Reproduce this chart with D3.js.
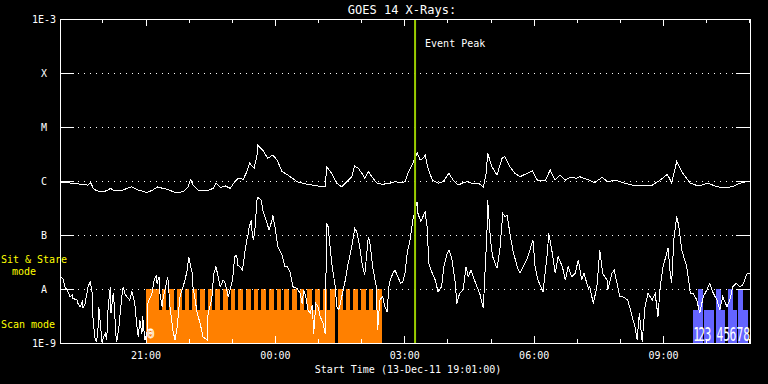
<!DOCTYPE html>
<html><head><meta charset="utf-8">
<script src="https://cdn.jsdelivr.net/npm/d3@7"></script>
<style>
html,body{margin:0;padding:0;background:#000;}
svg{display:block;}
text{font-family:"DejaVu Sans Mono",monospace;}
</style>
</head><body>
<svg id="chart" width="768" height="384"></svg>
<script>
// ---------------- DATA ----------------
const startTime = Date.UTC(2011, 11, 13, 19, 1, 0);   // 13-Dec-11 19:01:00
const durationMinutes = 960;
const eventPeakMinute = 494;                           // ~03:15
const titleText = "GOES 14 X-Rays:";
const xLabelText = "Start Time (13-Dec-11 19:01:00)";
const yTickValues = [1e-9, 1e-8, 1e-7, 1e-6, 1e-5, 1e-4, 1e-3];
const yTickLabels = ["1E-9", "A", "B", "C", "M", "X", "1E-3"];
const gridLevels = [1e-8, 1e-7, 1e-6, 1e-5, 1e-4];

// long channel (1-8 A): [minutes after start, flux W/m^2]
const longChannel = [
 [0,9.5e-7],[18,9.1e-7],[39,8.4e-7],[43,9.3e-7],[46,7.4e-7],[51,6.6e-7],[60,6.3e-7],[67,6.8e-7],[70,7.3e-7],[74,6.8e-7],
 [86,6.6e-7],[93,7.3e-7],[100,7.8e-7],[109,6.8e-7],[121,6.1e-7],[129,6.8e-7],[136,7.8e-7],[143,7.3e-7],[150,7.0e-7],[160,6.1e-7],
 [171,6.3e-7],[178,7.8e-7],[182,1.08e-6],[185,8.4e-7],[192,6.8e-7],[205,6.6e-7],[213,7.3e-7],[217,9.1e-7],[223,7.6e-7],[230,8.1e-7],
 [237,7.3e-7],[243,9.7e-7],[248,1.12e-6],[255,1.08e-6],[260,1.49e-6],[264,2.13e-6],[267,1.9e-6],[270,1.72e-6],[274,2.82e-6],[275,4.64e-6],
 [282,3.75e-6],[289,2.63e-6],[296,3.03e-6],[302,2.45e-6],[309,1.49e-6],[317,1.29e-6],[330,9.7e-7],[344,8.7e-7],[358,8.1e-7],[369,7.8e-7],
 [371,1.84e-6],[378,1.39e-6],[385,9.1e-7],[392,7.8e-7],[401,1.04e-6],[406,1.2e-6],[410,1.9e-6],[415,1.72e-6],[420,1.39e-6],[424,1.12e-6],
 [429,1.49e-6],[434,1.2e-6],[441,9.1e-7],[449,8.7e-7],[459,9.1e-7],[466,9.7e-7],[476,9.3e-7],[480,9.7e-7],[484,1.39e-6],[491,2.13e-6],
 [497,3.34e-6],[501,2.45e-6],[505,2.63e-6],[508,3.03e-6],[512,1.72e-6],[518,1.04e-6],[526,9.1e-7],[533,9.7e-7],[541,1.39e-6],[547,1.04e-6],
 [554,8.4e-7],[561,9.3e-7],[566,9.7e-7],[573,9.1e-7],[582,9.1e-7],[589,7.8e-7],[593,1.39e-6],[595,3.26e-6],[601,1.84e-6],[608,1.29e-6],
 [615,2.63e-6],[619,2.82e-6],[626,1.84e-6],[633,1.39e-6],[640,1.2e-6],[650,1.39e-6],[657,1.55e-6],[664,1.04e-6],[675,1.01e-6],[682,1.6e-6],
 [689,1.04e-6],[696,1.29e-6],[703,1.04e-6],[710,1.17e-6],[719,1.12e-6],[723,1.2e-6],[733,1.08e-6],[744,9.3e-7],[754,1.17e-6],[762,9.7e-7],
 [772,1.04e-6],[786,9.1e-7],[796,8.4e-7],[824,8.4e-7],[835,1.04e-6],[845,1.33e-6],[851,9.3e-7],[858,2.28e-6],[865,1.49e-6],[877,9.1e-7],
 [888,8.1e-7],[902,9.1e-7],[911,8.1e-7],[921,7.5e-7],[935,7.8e-7],[946,9.1e-7],[960,1.0e-6]
];

// short channel (0.5-4 A): [minutes after start, flux W/m^2]
const shortChannel = [
 [0,1.68e-8],[4,1.58e-8],[7,1.1e-8],[11,8.9e-9],[14,7.2e-9],[17,7.7e-9],[18,6.7e-9],[24,6.25e-9],[25,5.4e-9],[28,4.7e-9],
 [31,5.8e-9],[32,4.4e-9],[35,5.4e-9],[39,1.1e-8],[42,1.37e-8],[45,8.3e-9],[46,2.67e-9],[49,1.13e-9],[51,1.06e-9],[53,2.0e-9],
 [54,4.7e-9],[57,1.74e-9],[58,1.06e-9],[63,1.5e-9],[65,1.13e-9],[67,4.7e-9],[70,1.1e-8],[71,3.55e-9],[74,8.3e-9],[75,6.25e-9],
 [78,1.3e-9],[79,1.06e-9],[82,2.0e-9],[86,7.2e-9],[88,1.1e-8],[90,8.3e-9],[93,7.2e-9],[97,6.25e-9],[100,8.9e-9],[102,7.2e-9],
 [104,5.4e-9],[107,2.0e-9],[109,1.3e-9],[111,2.67e-9],[114,1.5e-9],[115,3.1e-9],[118,1.13e-9],[121,1.5e-9],[122,5.4e-9],[125,6.7e-9],
 [128,8.3e-9],[131,1.47e-8],[134,1.82e-8],[135,1.27e-8],[138,1.69e-8],[139,8.3e-9],[142,4.7e-9],[143,6.25e-9],[147,1.1e-8],[150,1.69e-8],
 [153,4.7e-9],[157,1.74e-9],[160,1.13e-9],[163,2.0e-9],[167,7.2e-9],[174,1.47e-8],[177,2.25e-8],[179,3.96e-8],[184,1.95e-8],[185,1.1e-8],
 [191,3.55e-9],[195,2.3e-9],[199,1.3e-9],[205,1.13e-9],[206,3.55e-9],[211,6.25e-9],[214,1.95e-8],[217,2.59e-8],[220,1.69e-8],[223,1.1e-8],
 [227,1.47e-8],[230,1.27e-8],[234,7.2e-9],[239,1.27e-8],[241,1.95e-8],[243,3.96e-8],[246,4.26e-8],[247,2.78e-8],[250,2.59e-8],[254,2.25e-8],
 [257,4.58e-8],[260,8.08e-8],[262,1.07e-7],[263,1.33e-7],[266,1.9e-7],[267,1.24e-7],[269,8.08e-8],[271,1.15e-7],[274,4.44e-7],[275,4.99e-7],
 [280,4.44e-7],[282,2.9e-7],[288,1.65e-7],[291,1.24e-7],[295,1.9e-7],[296,2.34e-7],[299,1.43e-7],[303,6.07e-8],[309,4.26e-8],[313,2.59e-8],
 [316,2.59e-8],[320,2.09e-8],[324,1.1e-8],[330,1.03e-8],[334,8.3e-9],[337,5.4e-9],[339,9.6e-9],[342,7.2e-9],[345,4.1e-9],[348,3.55e-9],
 [351,5.05e-9],[353,1.5e-9],[356,5.4e-9],[359,4.7e-9],[362,3.1e-9],[366,2.3e-9],[369,1.5e-9],[371,1.65e-7],[373,1.43e-7],[378,2.99e-8],
 [383,1.1e-8],[385,4.7e-9],[388,4.1e-9],[392,7.2e-9],[397,1.47e-8],[401,2.99e-8],[406,6.07e-8],[410,1.33e-7],[413,1.15e-7],[417,6.07e-8],
 [421,2.59e-8],[424,1.82e-8],[429,9.3e-8],[431,7.53e-8],[435,2.59e-8],[440,1.1e-8],[442,1.74e-9],[445,6.25e-9],[449,7.2e-9],[452,4.7e-9],
 [455,3.8e-9],[458,1.27e-8],[463,1.95e-8],[466,2.25e-8],[470,1.69e-8],[474,1.27e-8],[477,1.37e-8],[480,1.95e-8],[483,4.58e-8],[487,8.08e-8],
 [491,1.9e-7],[494,2.9e-7],[497,4.14e-7],[498,2.52e-7],[502,1.76e-7],[505,2.18e-7],[508,2.7e-7],[511,1.33e-7],[513,2.99e-8],[518,1.95e-8],
 [522,1.47e-8],[526,8.9e-9],[531,1.1e-8],[534,2.59e-8],[538,4.26e-8],[541,5.27e-8],[545,3.7e-8],[550,1.27e-8],[552,5.4e-9],[556,8.3e-9],
 [561,9.6e-9],[565,2.59e-8],[568,1.69e-8],[572,2.25e-8],[575,1.69e-8],[580,1.1e-8],[584,8.3e-9],[589,4.4e-9],[591,1.69e-8],[594,1.07e-7],
 [595,4.44e-7],[599,8.08e-8],[602,3.96e-8],[608,2.42e-8],[612,5.27e-8],[616,2.52e-7],[619,2.18e-7],[622,2.34e-7],[626,1.07e-7],[630,5.27e-8],
 [636,2.59e-8],[640,1.95e-8],[647,2.99e-8],[651,3.96e-8],[658,8.08e-8],[661,2.59e-8],[665,1.47e-8],[672,8.9e-9],[678,4.58e-8],[680,1.07e-7],
 [685,4.58e-8],[689,1.95e-8],[693,3.96e-8],[699,2.59e-8],[703,1.47e-8],[707,2.59e-8],[712,1.69e-8],[717,1.95e-8],[721,3.44e-8],[726,1.47e-8],
 [729,1.95e-8],[735,1.03e-8],[737,1.1e-8],[742,5.4e-9],[747,1.1e-8],[751,5.27e-8],[755,1.95e-8],[761,1.47e-8],[762,9.6e-9],[768,1.95e-8],
 [771,2.25e-8],[776,1.1e-8],[779,7.2e-9],[783,7.2e-9],[790,6.25e-9],[796,3.1e-9],[800,2.0e-9],[803,1.13e-9],[806,3.55e-9],[810,1.06e-9],
 [814,4.7e-9],[818,8.3e-9],[824,6.25e-9],[828,8.3e-9],[832,3.1e-9],[835,1.1e-8],[839,2.59e-8],[846,5.66e-8],[849,1.95e-8],[851,1.27e-8],
 [854,8.08e-8],[858,2.25e-7],[861,1.43e-7],[865,5.27e-8],[872,2.59e-8],[877,8.3e-9],[881,8.3e-9],[886,6.25e-9],[890,3.55e-9],[895,7.2e-9],
 [900,9.6e-9],[904,1.27e-8],[909,8.3e-9],[914,6.25e-9],[918,4.1e-9],[922,7.2e-9],[928,4.7e-9],[932,6.25e-9],[936,1.1e-8],[941,1.27e-8],
 [946,1.1e-8],[950,1.19e-8],[956,1.95e-8],[960,1.95e-8]
];

// scan-mode observations (orange): continuous blocks and individual raster intervals, minutes after start
const scanBlockStart = [119.6, 386.8];
const scanBlockEnd   = [382.6, 447.6];
const scanRasterStart = [119.6,141.5,152.2,162.8,173.5,184.1,194.8,205.5,216.1,226.8,237.4,248.1,258.8,269.4,280.1,
                         290.8,301.4,312.1,322.8,333.4,344.1,354.8,365.4,376.1,386.8,397.4,408.1,418.8,429.4,440.1];
const scanRasterEnd   = [137.3,148.0,158.6,169.3,179.9,190.6,201.3,211.9,222.6,233.2,243.9,254.6,265.2,275.9,286.6,
                         297.2,307.9,318.6,329.2,339.9,350.6,361.2,371.9,382.6,393.2,403.9,414.6,425.2,435.9,447.6];
const scanLabel = "0";
const scanLabelMinute = 126;

// sit & stare observations (blue)
const stareStart = [880.3, 887.2, 896.4, 904.3, 912.3, 919.2, 929.0, 935.8, 943.7, 950.7];
const stareEnd   = [887.2, 894.2, 904.3, 910.0, 919.2, 925.2, 935.8, 941.8, 950.7, 957.6];
const stareTall  = [false, true, false, false, true, false, true, false, true, false];
const stareLabels = ["1","2","3","4","5","6","7","8"];
const stareLabelMinutes = [885.8, 892.8, 901.6, 918.3, 927.6, 936.4, 946.1, 955.4];

// ---------------- CHART ----------------
const svg = d3.select("#chart");
svg.append("rect").attr("width", 768).attr("height", 384).attr("fill", "#000");

const M = {left: 60, right: 750, top: 19, bottom: 343};
const toDate = m => new Date(startTime + m * 60000);
const x = d3.scaleUtc().domain([toDate(0), toDate(durationMinutes)]).range([M.left, M.right]);
const y = d3.scaleLog().domain([1e-9, 1e-3]).range([M.bottom, M.top]).clamp(true);

const tallLevel = 1e-8, baseLevel = 4e-9;
const orange = "#ff8000", blue = "#6464ff";

// orange scan blocks
const gScan = svg.append("g").attr("shape-rendering", "crispEdges");
gScan.selectAll("rect.base").data(d3.range(scanBlockStart.length)).join("rect")
  .attr("x", i => x(toDate(scanBlockStart[i])))
  .attr("width", i => x(toDate(scanBlockEnd[i])) - x(toDate(scanBlockStart[i])))
  .attr("y", y(baseLevel)).attr("height", y(1e-9) - y(baseLevel)).attr("fill", orange);
gScan.selectAll("rect.raster").data(d3.range(scanRasterStart.length)).join("rect")
  .attr("x", i => x(toDate(scanRasterStart[i])))
  .attr("width", i => x(toDate(scanRasterEnd[i])) - x(toDate(scanRasterStart[i])))
  .attr("y", y(tallLevel)).attr("height", y(1e-9) - y(tallLevel)).attr("fill", orange);

// blue sit & stare
const gStare = svg.append("g").attr("shape-rendering", "crispEdges");
gStare.selectAll("rect").data(d3.range(stareStart.length)).join("rect")
  .attr("x", i => x(toDate(stareStart[i])))
  .attr("width", i => x(toDate(stareEnd[i])) - x(toDate(stareStart[i])))
  .attr("y", i => y(stareTall[i] ? tallLevel : baseLevel))
  .attr("height", i => y(1e-9) - y(stareTall[i] ? tallLevel : baseLevel))
  .attr("fill", blue);

// grid dotted lines
svg.append("g").attr("shape-rendering", "crispEdges").selectAll("line").data(gridLevels).join("line")
  .attr("x1", M.left + 18).attr("x2", M.right - 14)
  .attr("y1", d => Math.round(y(d)) + 0.5).attr("y2", d => Math.round(y(d)) + 0.5)
  .attr("stroke", "#fff").attr("stroke-width", 1).attr("stroke-dasharray", "1,5");

// curves
const line = d3.line().x(d => x(toDate(d[0]))).y(d => y(d[1]));
svg.append("path").datum(longChannel).attr("d", line)
  .attr("fill", "none").attr("stroke", "#fff").attr("stroke-width", 1).attr("shape-rendering", "crispEdges");
svg.append("path").datum(shortChannel).attr("d", line)
  .attr("fill", "none").attr("stroke", "#fff").attr("stroke-width", 1).attr("shape-rendering", "crispEdges");

// labels on observation blocks
svg.append("text").text(scanLabel)
  .attr("x", x(toDate(scanLabelMinute))).attr("y", 338)
  .attr("text-anchor", "middle").attr("fill", "none").attr("stroke", "#fff").attr("stroke-width", 0.8)
  .style("font-size", "13px");
svg.append("g").selectAll("text").data(stareLabels).join("text")
  .text(d => d)
  .attr("transform", (d, i) => `translate(${x(toDate(stareLabelMinutes[i]))},341) scale(0.6,1)`)
  .attr("text-anchor", "middle").attr("fill", "#fff")
  .style("font-size", "19px").style("font-weight", "200");

// event peak line
svg.append("line")
  .attr("x1", x(toDate(eventPeakMinute))).attr("x2", x(toDate(eventPeakMinute)))
  .attr("y1", M.top).attr("y2", M.bottom)
  .attr("stroke", "#9acc00").attr("stroke-width", 2);
svg.append("text").text("Event Peak")
  .attr("x", x(toDate(eventPeakMinute)) + 10).attr("y", 47)
  .attr("fill", "#fff").style("font-size", "10px");

// axes
const gAx = svg.append("g").attr("shape-rendering", "crispEdges");
function styleAxis(g) {
  g.select(".domain").remove();
  g.selectAll("line").attr("stroke", "#fff");
  g.selectAll("text").attr("fill", "#fff").style("font-family", "'DejaVu Sans Mono', monospace").style("font-size", "10px");
}
gAx.append("g").attr("transform", `translate(0,${M.bottom})`)
  .call(d3.axisBottom(x).ticks(d3.utcHour.every(1)).tickSizeInner(-4).tickSizeOuter(0).tickFormat(""))
  .call(styleAxis);
gAx.append("g").attr("transform", `translate(0,${M.bottom})`)
  .call(d3.axisBottom(x).ticks(d3.utcHour.every(3)).tickSizeInner(-7).tickSizeOuter(0)
        .tickPadding(9).tickFormat(d3.utcFormat("%H:%M")))
  .call(styleAxis);
gAx.append("g").attr("transform", `translate(0,${M.top})`)
  .call(d3.axisTop(x).ticks(d3.utcHour.every(1)).tickSizeInner(-4).tickSizeOuter(0).tickFormat(""))
  .call(styleAxis);
gAx.append("g").attr("transform", `translate(0,${M.top})`)
  .call(d3.axisTop(x).ticks(d3.utcHour.every(3)).tickSizeInner(-7).tickSizeOuter(0).tickFormat(""))
  .call(styleAxis);
const yl = gAx.append("g").attr("transform", `translate(${M.left},0)`)
  .call(d3.axisLeft(y).tickValues(yTickValues).tickSizeInner(-14).tickSizeOuter(0)
        .tickFormat((d, i) => yTickLabels[i]))
  .call(styleAxis);
yl.selectAll("text").attr("x", -16).attr("text-anchor", "middle").attr("dy", "0.35em");
gAx.append("g").attr("transform", `translate(${M.right},0)`)
  .call(d3.axisRight(y).tickValues(yTickValues).tickSizeInner(-14).tickSizeOuter(0).tickFormat(""))
  .call(styleAxis);

// frame
gAx.append("rect").attr("x", M.left + 0.5).attr("y", M.top + 0.5)
  .attr("width", M.right - M.left).attr("height", M.bottom - M.top)
  .attr("fill", "none").attr("stroke", "#fff").attr("stroke-width", 1);

// titles
svg.append("text").text(titleText).attr("x", 402).attr("y", 14)
  .attr("text-anchor", "middle").attr("fill", "#fff").style("font-size", "12px");
svg.append("text").text(xLabelText).attr("x", 408).attr("y", 373)
  .attr("text-anchor", "middle").attr("fill", "#fff").style("font-size", "10px");

// mode labels
const modeLabels = [["Sit & Stare", 34, 263], ["mode", 24, 275], ["Scan mode", 28, 328]];
svg.append("g").selectAll("text").data(modeLabels).join("text")
  .text(d => d[0]).attr("x", d => d[1]).attr("y", d => d[2])
  .attr("text-anchor", "middle").attr("fill", "#ffff00").style("font-size", "10px");
</script>
</body></html>
